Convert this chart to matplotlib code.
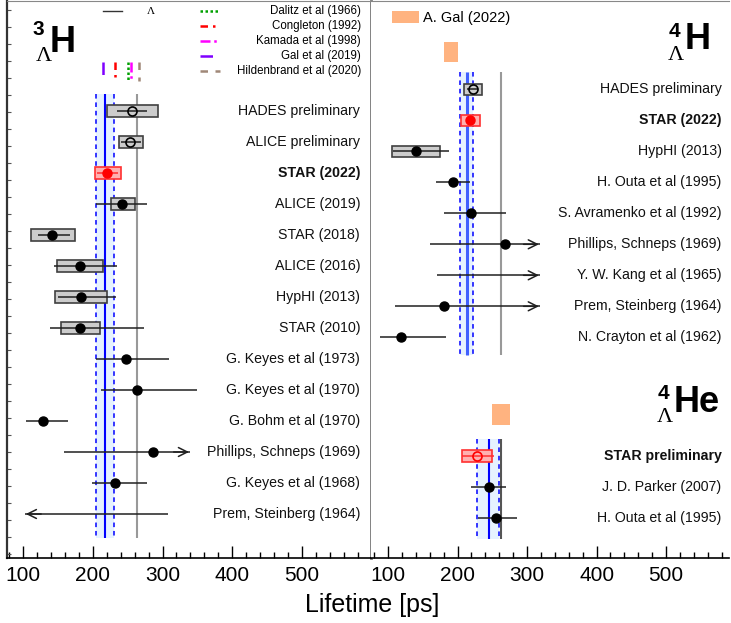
import numpy as np
import matplotlib
matplotlib.use("Agg")
import matplotlib.pyplot as plt

plt.rcParams['font.family'] = ['Liberation Sans', 'DejaVu Sans']

# ---- data: hypertriton (3_Lambda H) ----
h3_labels = ["HADES preliminary", "ALICE preliminary", "STAR (2022)", "ALICE (2019)",
             "STAR (2018)", "ALICE (2016)", "HypHI (2013)", "STAR (2010)",
             "G. Keyes et al (1973)", "G. Keyes et al (1970)", "G. Bohm et al (1970)",
             "Phillips, Schneps (1969)", "G. Keyes et al (1968)", "Prem, Steinberg (1964)"]
h3_val = [256, 254, 221, 242, 142, 181, 183, 182, 247, 264, 128, 286, 232, np.nan]
h3_lo = [235, 240, 206, 205, 122, 144, 150, 138, 205, 212, 104, 159, 199, 100]
h3_hi = [278, 269, 236, 278, 168, 235, 233, 273, 310, 349, 165, 342, 278, 308]
h3_arrow = [None] * 11 + ["right", None, "left"]
h3_sys_lo = [220, 237, 203, 226, 112, 148, 146, 155]
h3_sys_hi = [293, 272, 240, 260, 174, 214, 220, 210]
h3_open = [True, True, False, False, False, False, False, False,
           False, False, False, False, False, False]
h3_band = (204, 217, 231)

theory_labels = ["Dalitz et al (1966)", "Congleton (1992)", "Kamada et al (1998)",
                 "Gal et al (2019)", "Hildenbrand et al (2020)"]
theory_vals = [250, 231.5, 255, 214, 267]
theory_colors = ["#00a000", "#ff0000", "#ff00ff", "#7f00ff", "#a08878"]
theory_styles = [(0, (1, 1)), (0, (3, 2, 1, 2)), (0, (4, 1.5, 1, 1.5, 1, 1.5)),
                 (0, (5, 4)), (0, (3, 3))]

tau_lambda = 263.2

# ---- data: 4_Lambda H ----
h4_labels = ["HADES preliminary", "STAR (2022)", "HypHI (2013)", "H. Outa et al (1995)",
             "S. Avramenko et al (1992)", "Phillips, Schneps (1969)",
             "Y. W. Kang et al (1965)", "Prem, Steinberg (1964)", "N. Crayton et al (1962)"]
h4_val = [222, 218.5, 140, 194, 220, 268, np.nan, 180, 118]
h4_lo = [214, 212, 107, 169, 180, 161, 170, 110, 88]
h4_hi = [230, 225, 188, 218, 269, 321, 321, 321, 183]
h4_arrow = [None, None, None, None, None, "right", "right", "right", None]
h4_sys_lo = [209, 205, 105]
h4_sys_hi = [235, 232, 175]
h4_open = [True, False, False, False, False, False, False, False, False]
h4_band = (204, 213, 222)
h4_gal = (180, 200)

# ---- data: 4_Lambda He ----
he4_labels = ["STAR preliminary", "J. D. Parker (2007)", "H. Outa et al (1995)"]
he4_val = [228, 245, 256]
he4_lo = [206, 220, 229.5]
he4_hi = [252, 270, 285]
he4_sys_lo = [207]
he4_sys_hi = [250]
he4_open = [True, False, False]
he4_band = (228, 245, 260)
he4_gal = (250, 276)

W, H = 731, 623
fig = plt.figure(figsize=(W / 100, H / 100), dpi=100)
axL = fig.add_axes([7 / W, 65 / H, 364 / W, 557 / H])
axR = fig.add_axes([371 / W, 65 / H, 358 / W, 557 / H])

ROW = 31.0  # px per row
axL.set_xlim(77, 599)
axL.set_ylim((558 - 111) / ROW, (1 - 111) / ROW)
axR.set_xlim(75.5, 590.5)
axR.set_ylim((558 - 89.3) / ROW, (1 - 89.3) / ROW)

BOX_H = 0.36
LAB_FS = 10.2


def draw_band(ax, band, y0, y1, cw=1.5, ccol="blue"):
    ax.fill_betweenx([y0, y1], band[0], band[2], color="#e6f2ff", lw=0, zorder=1)
    ax.vlines([band[0], band[2]], y0, y1, colors="blue", linestyles=(0, (3, 2.5)), lw=1.1, zorder=2)
    ax.vlines(band[1], y0, y1, colors=ccol, lw=cw, zorder=2)


def draw_rows(ax, ys, labels, val, lo, hi, sys_lo, sys_hi, opens, arrows, red_rows, bold_rows, xt):
    for i, y in enumerate(ys):
        red = i in red_rows
        col = "red" if red else "black"
        if i < len(sys_lo):
            ax.barh(y, sys_hi[i] - sys_lo[i], left=sys_lo[i], height=BOX_H,
                    color="#ffb0b0" if red else "#cccccc",
                    edgecolor="#ff3030" if red else "#404040", lw=1.2, zorder=4)
        arr = arrows[i] if arrows is not None else None
        lcol = "#ff3030" if red else "#202020"
        if arr == "right":
            ax.hlines(y, lo[i], hi[i] - 3, colors=lcol, lw=1.1, zorder=5)
            ax.annotate("", xy=(hi[i], y), xytext=(hi[i] - 30, y),
                        arrowprops=dict(arrowstyle="->", color=lcol, lw=1.1, mutation_scale=16),
                        zorder=5)
        elif arr == "left":
            ax.hlines(y, lo[i] + 3, hi[i], colors=lcol, lw=1.1, zorder=5)
            ax.annotate("", xy=(lo[i], y), xytext=(lo[i] + 30, y),
                        arrowprops=dict(arrowstyle="->", color=lcol, lw=1.1, mutation_scale=16),
                        zorder=5)
        else:
            ax.hlines(y, lo[i], hi[i], colors=lcol, lw=1.1, zorder=5)
        if not np.isnan(val[i]):
            if opens[i]:
                ax.plot(val[i], y, "o", ms=6.5, mfc="none", mec=col, mew=1.2, zorder=6)
            else:
                ax.plot(val[i], y, "o", ms=6.5, color=col, zorder=6)
        ax.text(xt, y, labels[i], transform=ax.get_yaxis_transform(), ha="right", va="center",
                fontsize=LAB_FS, fontweight="bold" if i in bold_rows else "normal", color="#111111")


def nucleus(ax, a, sym, xa, ya, xl, yl, xs, ys):
    ax.text(xa, ya, a, transform=ax.transAxes, ha="center", va="center",
            fontsize=15, fontweight="bold")
    ax.text(xl, yl, "Λ", transform=ax.transAxes, ha="center", va="center",
            fontsize=16, family="Liberation Serif")
    ax.text(xs, ys, sym, transform=ax.transAxes, ha="center", va="center",
            fontsize=26, fontweight="bold")


# ---- left panel ----
yL = np.arange(len(h3_labels))
draw_band(axL, h3_band, -0.55, yL[-1] + 0.77)
axL.vlines(tau_lambda, -0.55, yL[-1] + 0.77, colors="#999999", lw=1.5, zorder=2)
draw_rows(axL, yL, h3_labels, h3_val, h3_lo, h3_hi, h3_sys_lo, h3_sys_hi, h3_open,
          h3_arrow, red_rows=[2], bold_rows=[2], xt=0.970)

for v, c, s in zip(theory_vals, theory_colors, theory_styles):
    axL.vlines(v, -1.58, -0.97, colors=c, linestyles=s, lw=1.8, zorder=3)

# legend for theory lines
leg_y = [0.982, 0.955, 0.928, 0.901, 0.874]
for yy, lab, c, s in zip(leg_y, theory_labels, theory_colors, theory_styles):
    axL.plot([0.530, 0.585], [yy, yy], transform=axL.transAxes, color=c, ls=s, lw=1.8)
    axL.text(0.9725, yy, lab, transform=axL.transAxes, ha="right", va="center", fontsize=8.3)
axL.plot([0.264, 0.316], [0.982, 0.982], transform=axL.transAxes, color="#333333", lw=1)
axL.text(0.396, 0.982, "Λ", transform=axL.transAxes, ha="center", va="center",
         fontsize=8, family="Liberation Serif")

nucleus(axL, "3", "H", 0.0865, 0.948, 0.100, 0.900, 0.152, 0.925)

# ---- right panel ----
yR = np.arange(len(h4_labels))
draw_band(axR, h4_band, -0.56, yR[-1] + 0.57, cw=2.2, ccol="#4060ff")
axR.vlines(tau_lambda, -0.56, yR[-1] + 0.57, colors="#999999", lw=1.5, zorder=2)
draw_rows(axR, yR, h4_labels, h4_val, h4_lo, h4_hi, h4_sys_lo, h4_sys_hi, h4_open,
          h4_arrow, red_rows=[1], bold_rows=[1], xt=0.979)
axR.barh(-1.21, h4_gal[1] - h4_gal[0], left=h4_gal[0], height=0.64, color="#ffb380", lw=0, zorder=3)

yHe = 11.83 + np.arange(len(he4_labels))
draw_band(axR, he4_band, 11.28, 14.5)
axR.vlines(tau_lambda, 11.28, 14.5, colors="#555555", lw=1.5, zorder=2)
draw_rows(axR, yHe, he4_labels, he4_val, he4_lo, he4_hi, he4_sys_lo, he4_sys_hi, he4_open,
          None, red_rows=[0], bold_rows=[0], xt=0.979)
axR.barh(10.49, he4_gal[1] - he4_gal[0], left=he4_gal[0], height=0.67, color="#ffb380", lw=0, zorder=3)

# A. Gal legend
axR.add_patch(plt.Rectangle((0.059, 0.960), 0.075, 0.022, transform=axR.transAxes,
                            color="#ffb380", lw=0))
axR.text(0.146, 0.970, "A. Gal (2022)", transform=axR.transAxes, ha="left", va="center",
         fontsize=10.5)

nucleus(axR, "4", "H", 0.848, 0.945, 0.852, 0.903, 0.911, 0.930)
nucleus(axR, "4", "He", 0.817, 0.296, 0.821, 0.253, 0.911, 0.279)

# ---- axes styling ----
for ax in (axL, axR):
    ax.set_xticks([100, 200, 300, 400, 500])
    ax.set_xticks(np.arange(80, 600, 20), minor=True)
    ax.tick_params(axis="x", which="major", direction="in", length=9, width=1,
                   labelsize=15, pad=6)
    ax.tick_params(axis="x", which="minor", direction="in", length=4.5, width=1)
    ax.spines["top"].set_color("#888888")
    ax.spines["bottom"].set_color("black")
    ax.spines["bottom"].set_linewidth(1.2)
    ax.set_facecolor("white")

axL.set_yticks(np.arange((1 - 111) / ROW + 0.3, (558 - 111) / ROW, 17 / ROW))
axL.set_yticklabels([])
axL.tick_params(axis="y", direction="in", length=3, width=0.8, color="#555555")
axL.spines["left"].set_color("#333333")
axL.spines["left"].set_linewidth(1.6)
axL.spines["right"].set_color("#777777")
axL.spines["right"].set_linewidth(2)

axR.set_yticks([])
axR.spines["left"].set_visible(False)
axR.spines["right"].set_visible(False)

fig.text(372 / W, 1 - 605 / H, "Lifetime [ps]", ha="center", va="center", fontsize=18)

fig.savefig("out.png", dpi=100)
